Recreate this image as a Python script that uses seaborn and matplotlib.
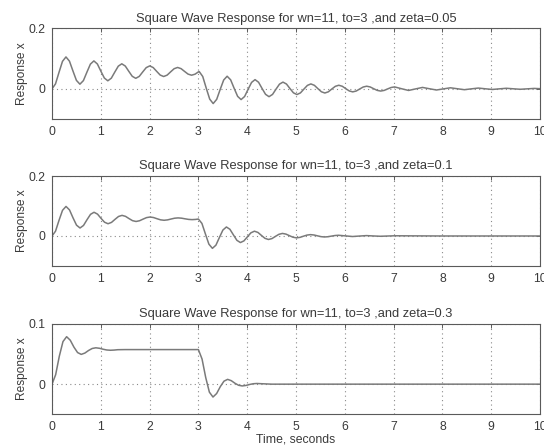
import matplotlib
matplotlib.use("Agg")
import matplotlib.pyplot as plt
import seaborn as sns
import pandas as pd

# ---------------- data ----------------
titles = [
    "Square Wave Response for wn=11, to=3 ,and zeta=0.05",
    "Square Wave Response for wn=11, to=3 ,and zeta=0.1",
    "Square Wave Response for wn=11, to=3 ,and zeta=0.3",
]
x_ticks = [0, 1, 2, 3, 4, 5, 6, 7, 8, 9, 10]
y_ticks = [[0, 0.2], [0, 0.2], [0, 0.1]]
y_ticklabels = [["0", "0.2"], ["0", "0.2"], ["0", "0.1"]]
y_limits = [(-0.1, 0.2), (-0.1, 0.2), (-0.05, 0.1)]

t_zeta005 = [
    0.0, 0.0715, 0.143, 0.2145, 0.286, 0.3575, 0.429, 0.5005, 0.572, 0.6435,
    0.715, 0.7865, 0.858, 0.9295, 1.001, 1.0725, 1.144, 1.2155, 1.287, 1.3585,
    1.43, 1.5015, 1.573, 1.6445, 1.716, 1.7875, 1.859, 1.9305, 2.002, 2.0735,
    2.145, 2.2165, 2.288, 2.3595, 2.431, 2.5025, 2.574, 2.6455, 2.717, 2.7885,
    2.86, 2.9315, 3.0,
    3.017, 3.089, 3.16, 3.232, 3.303, 3.375, 3.446, 3.518, 3.589, 3.661,
    3.732, 3.804, 3.875, 3.947, 4.018, 4.09, 4.161, 4.233, 4.304, 4.376,
    4.447, 4.519, 4.59, 4.662, 4.733, 4.805, 4.876, 4.948, 5.019, 5.091,
    5.162, 5.234, 5.305, 5.377, 5.448, 5.52, 5.591, 5.663, 5.734, 5.806,
    5.877, 5.949, 6.02, 6.092, 6.163, 6.235, 6.306, 6.378, 6.449, 6.521,
    6.592, 6.664, 6.735, 6.807, 6.878, 6.95, 7.021,
    7.164, 7.307, 7.45, 7.593, 7.736, 7.879, 8.022, 8.165, 8.308, 8.451,
    8.594, 8.737, 8.88, 9.023, 9.166, 9.309, 9.452, 9.595, 9.738, 9.881, 10.0,
]
x_zeta005 = [
    0.0, 0.01632, 0.05436, 0.09103, 0.1057, 0.09176, 0.05925, 0.02792, 0.01539, 0.0273,
    0.05508, 0.08184, 0.09255, 0.08238, 0.05864, 0.03577, 0.02663, 0.03532, 0.0556, 0.07513,
    0.08295, 0.07553, 0.0582, 0.0415, 0.03483, 0.04117, 0.05598, 0.07023, 0.07595, 0.07052,
    0.05788, 0.04569, 0.04082, 0.04545, 0.05626, 0.06666, 0.07082, 0.06687, 0.05764, 0.04875,
    0.04518, 0.04857, 0.05614,
    0.05719, 0.04082, 0.00265, -0.03417, -0.04886, -0.03488, -0.00226, 0.0292, 0.04175, 0.02979,
    0.00193, -0.02494, -0.03567, -0.02546, -0.00165, 0.02131, 0.03048, 0.02176, 0.00141, -0.01821,
    -0.02604, -0.01859, -0.00121, 0.01555, 0.02225, 0.01588, 0.00102, -0.01329, -0.019, -0.01356,
    -0.00088, 0.01135, 0.01624, 0.01159, 0.00075, -0.0097, -0.01387, -0.0099, -0.00064, 0.00829,
    0.01185, 0.00846, 0.00055, -0.00708, -0.01012, -0.00723, -0.00046, 0.00605, 0.00866, 0.00617,
    0.0004, -0.00517, -0.00739, -0.00527, -0.00034, 0.00442, 0.00632,
    0.0003, -0.0054, -0.0003, 0.0046, 0.0002, -0.0039, -0.0002, 0.0034, 0.0002, -0.0029,
    -0.0001, 0.0025, 0.0001, -0.0021, -0.0001, 0.0018, 0.0001, -0.0015, -0.0001, 0.0013, 0.0005,
]

t_zeta01 = [
    0.0, 0.0718, 0.1435, 0.2153, 0.287, 0.3588, 0.4306, 0.5023, 0.5741, 0.6458,
    0.7176, 0.7894, 0.8611, 0.9329, 1.0046, 1.0764, 1.1482, 1.2199, 1.2917, 1.3634,
    1.4352, 1.507, 1.5787, 1.6505, 1.7222, 1.794, 1.8658, 1.9375, 2.0093, 2.081,
    2.1528, 2.2246, 2.2963, 2.3681, 2.4398, 2.5116, 2.5834, 2.6551, 2.7269, 2.7986,
    2.8704, 2.9422,
    3.0, 3.072, 3.144, 3.215, 3.287, 3.359, 3.431, 3.502, 3.574, 3.646,
    3.718, 3.789, 3.861, 3.933, 4.005, 4.076, 4.148, 4.22, 4.292, 4.363,
    4.435, 4.507, 4.579, 4.65, 4.722, 4.794, 4.866, 4.938, 5.009, 5.081,
    5.153, 5.225, 5.296, 5.368, 5.44, 5.512, 5.583, 5.655, 5.727, 5.799,
    5.87, 6.014, 6.158, 6.301, 6.444, 6.588, 6.731, 7.018, 8.0, 10.0,
]
x_zeta01 = [
    0.0, 0.01601, 0.05211, 0.08561, 0.09857, 0.08689, 0.06056, 0.03614, 0.02668, 0.03519,
    0.0544, 0.07222, 0.07911, 0.0729, 0.05889, 0.0459, 0.04088, 0.04541, 0.05562, 0.0651,
    0.06876, 0.06546, 0.058, 0.0511, 0.04842, 0.05084, 0.05627, 0.06131, 0.06325, 0.0615,
    0.05753, 0.05386, 0.05244, 0.05372, 0.0566, 0.05929, 0.06033, 0.05939, 0.05728, 0.05533,
    0.05458, 0.05525,
    0.05648, 0.04199, 0.00664, -0.02718, -0.04118, -0.03062, -0.00484, 0.01981, 0.03005, 0.02234,
    0.00354, -0.01445, -0.02191, -0.01629, -0.00258, 0.01054, 0.01598, 0.01187, 0.00187, -0.00769,
    -0.01165, -0.00867, -0.00137, 0.0056, 0.0085, 0.00632, 0.001, -0.00409, -0.00619, -0.00461,
    -0.00072, 0.00299, 0.00452, 0.00336, 0.00053, -0.00217, -0.00329, -0.00244, -0.00039, 0.00158,
    0.00241, 0.0003, -0.00175, -0.0002, 0.00128, 0.0001, -0.00093, 0.0007, 0.0, 0.0,
]

t_zeta03 = [
    0.0, 0.0749, 0.1497, 0.2246, 0.2994, 0.3743, 0.4491, 0.524, 0.5988, 0.6737,
    0.7485, 0.8234, 0.8982, 0.9731, 1.0479, 1.1228, 1.1976, 1.2725, 1.347, 1.5,
    2.0, 3.0,
    3.075, 3.15, 3.225, 3.299, 3.374, 3.449, 3.524, 3.599, 3.674, 3.749,
    3.823, 3.898, 3.973, 4.048, 4.123, 4.198, 4.272, 4.5, 10.0,
]
x_zeta03 = [
    0.0, 0.01561, 0.04606, 0.07017, 0.07823, 0.07241, 0.06107, 0.0521, 0.04909, 0.05126,
    0.05549, 0.05882, 0.05994, 0.05914, 0.05756, 0.05632, 0.0559, 0.05621, 0.0568, 0.057,
    0.057, 0.057,
    0.04139, 0.01094, -0.01317, -0.02122, -0.01541, -0.00407, 0.00491, 0.00791, 0.00574, 0.00152,
    -0.00182, -0.00294, -0.00214, -0.00056, 0.00068, 0.0011, 0.0008, 0.0, 0.0,
]

series = [(t_zeta005, x_zeta005), (t_zeta01, x_zeta01), (t_zeta03, x_zeta03)]

# ---------------- styling ----------------
sns.set_theme(style="white")
plt.rcParams["font.family"] = ["Liberation Sans", "DejaVu Sans"]
text_color = "#3a3a3a"
frame_color = "#5a5a5a"
line_color = "#7a7a7a"

fig = plt.figure(figsize=(5.44, 4.48), dpi=100)
fig.patch.set_facecolor("white")

left, width = 0.0956, 0.897
axes_rects = [
    (left, 0.7344, width, 0.2020),
    (left, 0.4063, width, 0.2008),
    (left, 0.0748, width, 0.2031),
]

for i, (rect, (tt, xx)) in enumerate(zip(axes_rects, series)):
    ax = fig.add_axes(rect)
    df = pd.DataFrame({"t": tt, "x": xx})
    sns.lineplot(data=df, x="t", y="x", ax=ax, color=line_color,
                 linewidth=1.1, estimator=None, sort=False)
    ax.set_xlim(0, 10)
    ax.set_ylim(*y_limits[i])
    ax.set_xticks(x_ticks)
    ax.set_xticklabels([str(v) for v in x_ticks])
    ax.set_yticks(y_ticks[i])
    ax.set_yticklabels(y_ticklabels[i])
    ax.grid(True, linestyle=(0, (1, 3)), color="#8a8a8a", linewidth=0.8)
    ax.tick_params(direction="in", length=3, width=0.7, top=True, right=True,
                   colors=frame_color, labelcolor=text_color, labelsize=8.8, pad=5)
    for sp in ax.spines.values():
        sp.set_color(frame_color)
        sp.set_linewidth(0.8)
    ax.set_title(titles[i], fontsize=9.3, color=text_color, pad=5)
    ax.set_ylabel("Response x", fontsize=8.6, color=text_color, labelpad=0)
    if i == 2:
        ax.set_xlabel("Time, seconds", fontsize=8.8, color=text_color, labelpad=0)
    else:
        ax.set_xlabel("")

fig.savefig("out.png", dpi=100, facecolor="white")
